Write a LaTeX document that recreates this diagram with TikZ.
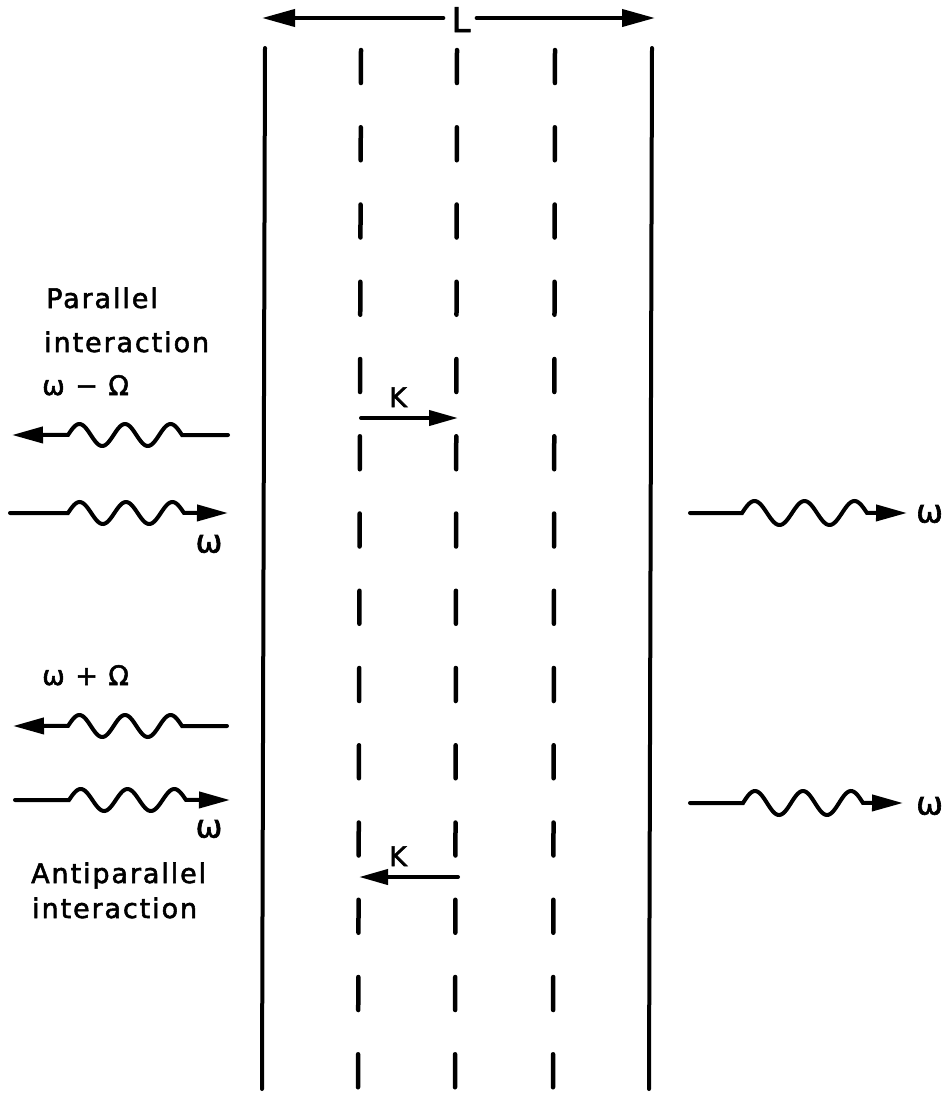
\documentclass[tikz,border=0pt]{standalone}
\usepackage{fontspec}
\setmainfont{DejaVu Sans}
\newfontfamily\lf[LetterSpace=7,FakeBold=2]{DejaVu Sans}
\usetikzlibrary{arrows.meta}
\begin{document}
\begin{tikzpicture}[x=1pt,y=-1pt,
  ln/.style={line width=4pt, line cap=round},
  dln/.style={line width=4.5pt, line cap=round, dash pattern=on 33pt off 44.25pt},
  bigtip/.style={-{Triangle[length=33pt,width=17pt]}},
  wtip/.style={-{Triangle[length=31pt,width=16pt]}},
  ktip/.style={-{Triangle[length=29pt,width=15pt]}},
  lab/.style={inner sep=0pt, font=\lf\fontsize{27}{32}\selectfont},
  wlab/.style={inner sep=0pt, font=\lf\fontsize{32}{36}\selectfont},
  big/.style={inner sep=0pt, font=\lf\fontsize{34}{40}\selectfont},
]
\useasboundingbox (0,0) rectangle (951,1095);

% walls
\coordinate (WLt) at (265,48);  \coordinate (WLb) at (262,1089);
\coordinate (WRt) at (652,48);  \coordinate (WRb) at (649,1089);
\draw[ln] (WLt) -- (WLb);
\draw[ln] (WRt) -- (WRb);
% dashed planes
\coordinate (D1t) at (361,50); \coordinate (D1b) at (358,1090);
\coordinate (D2t) at (457,50); \coordinate (D2b) at (455,1090);
\coordinate (D3t) at (555,50); \coordinate (D3b) at (553,1090);
\draw[dln] (D1t) -- (D1b);
\draw[dln] (D2t) -- (D2b);
\draw[dln] (D3t) -- (D3b);

% L dimension
\node[big, anchor=base] (L) at (461,32) {L};
\coordinate (Lleft) at (262,18);
\coordinate (Lright) at (655,18);
\draw[ln, bigtip] (L.west |- Lleft) ++(-8,0) -- (Lleft);
\draw[ln, bigtip] (L.east |- Lright) ++(6,0) -- (Lright);

% K arrows
\node[lab, anchor=base] (K1) at (398,407) {K};
\coordinate (K1a) at (361,418); \coordinate (K1b) at (458,418);
\draw[ln, ktip] (K1a) -- (K1b);
\node[lab, anchor=base] (K2) at (398,866) {K};
\coordinate (K2a) at (458,877); \coordinate (K2b) at (359,877);
\draw[ln, ktip] (K2a) -- (K2b);

% left waves
\coordinate (A1s) at (228,435); \coordinate (A1e) at (12,435);
\draw[ln, wtip] (A1s) -- (182,435) -- plot[domain=0:1, samples=90, variable=\t] ({182-114*\t},{435-11*sin(900*\t)}) -- (A1e);
\coordinate (A2s) at (10,513); \coordinate (A2e) at (228,513);
\draw[ln, wtip] (A2s) -- (68,513) -- plot[domain=0:1, samples=90, variable=\t] ({68+116*\t},{513-11*sin(900*\t)}) -- (A2e);
\coordinate (A3s) at (227,726); \coordinate (A3e) at (13,726);
\draw[ln, wtip] (A3s) -- (182,726) -- plot[domain=0:1, samples=90, variable=\t] ({182-114*\t},{726-11*sin(900*\t)}) -- (A3e);
\coordinate (A4s) at (15,800); \coordinate (A4e) at (230,800);
\draw[ln, wtip] (A4s) -- (69,800) -- plot[domain=0:1, samples=90, variable=\t] ({69+117*\t},{800-11*sin(900*\t)}) -- (A4e);

% right waves
\coordinate (B1s) at (690,513); \coordinate (B1e) at (907,513);
\draw[ln, wtip] (B1s) -- (742,513) -- plot[domain=0:1, samples=90, variable=\t] ({742+125*\t},{513-12*sin(900*\t)}) -- (B1e);
\coordinate (B2s) at (690,803); \coordinate (B2e) at (903,803);
\draw[ln, wtip] (B2s) -- (743,803) -- plot[domain=0:1, samples=90, variable=\t] ({743+120*\t},{803-12*sin(900*\t)}) -- (B2e);

% labels
\node[lab, anchor=base west] (par) at (46,308) {Parallel};
\node[lab, anchor=base west] (int1) at (44,352) {interaction};
\node[lab, anchor=base west] (wm) at (42,395) {ω − Ω};
\node[wlab, anchor=center] (w1) at (209,544) {ω};
\node[lab, anchor=base west] (wp) at (42,685) {ω + Ω};
\node[wlab, anchor=center] (w2) at (209,829) {ω};
\node[lab, anchor=base west] (anti) at (31,883) {Antiparallel};
\node[lab, anchor=base west] (int2) at (32,918) {interaction};
\node[wlab, anchor=west] (w3) at (916,514) {ω};
\node[wlab, anchor=west] (w4) at (916,806) {ω};
\end{tikzpicture}
\end{document}
